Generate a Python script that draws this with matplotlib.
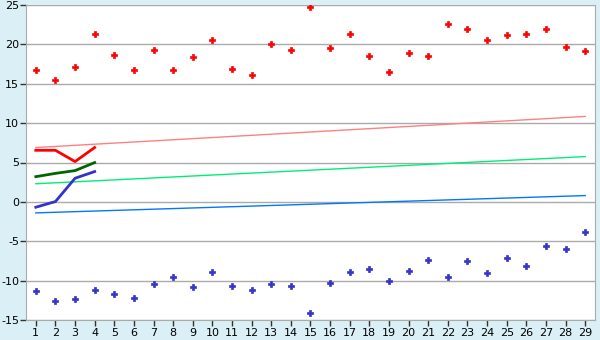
import matplotlib
matplotlib.use("Agg")
import matplotlib.pyplot as plt

plt.rcParams["axes.unicode_minus"] = False

days = list(range(1, 30))
tmax = [16.8, 15.5, 17.1, 21.3, 18.7, 16.8, 19.3, 16.8, 18.4, 20.6,
        16.9, 16.1, 20.1, 19.3, 24.8, 19.6, 21.3, 18.5, 16.5, 18.9,
        18.5, 22.6, 22.0, 20.6, 21.2, 21.3, 22.0, 19.7, 19.2]
tmin = [-11.3, -12.6, -12.3, -11.2, -11.7, -12.2, -10.4, -9.6, -10.8, -8.9,
        -10.7, -11.2, -10.4, -10.7, -14.1, -10.3, -8.9, -8.5, -10.0, -8.8,
        -7.4, -9.5, -7.5, -9.0, -7.1, -8.1, -5.6, -6.0, -3.8]
trend_max = [6.9, 10.85]
trend_mean = [2.3, 5.75]
trend_min = [-1.4, 0.8]
obs_days = [1, 2, 3, 4]
obs_max = [6.55, 6.55, 5.12, 6.9]
obs_mean = [3.2, 3.62, 3.97, 4.99]
obs_min = [-0.68, 0.04, 3.0, 3.85]
yticks = [-15, -10, -5, 0, 5, 10, 15, 20, 25]

fig = plt.figure(figsize=(6, 3.4), dpi=100)
fig.patch.set_facecolor("#daf0f6")
ax = fig.add_axes([26/600, 1-320/340, 569/600, 315/340])
ax.set_facecolor("white")

ax.plot([days[0], days[-1]], trend_max, color="#ff8080", lw=1.0, zorder=2)
ax.plot([days[0], days[-1]], trend_mean, color="#00ee77", lw=1.0, zorder=2)
ax.plot([days[0], days[-1]], trend_min, color="#0077ff", lw=1.0, zorder=2)

ax.plot(obs_days, obs_max, color="#ff0000", lw=2.0, zorder=3)
ax.plot(obs_days, obs_mean, color="#006600", lw=2.0, zorder=3)
ax.plot(obs_days, obs_min, color="#3333cc", lw=2.0, zorder=3)

ax.plot(days, tmax, ls="none", marker="P", ms=4.5, color="#ff0000", mec="#ff0000", mew=0.5, zorder=4)
ax.plot(days, tmin, ls="none", marker="P", ms=4.5, color="#3333cc", mec="#3333cc", mew=0.5, zorder=4)

ax.set_xlim(0.5, 29.5)
ax.set_ylim(-15, 25)
ax.set_xticks(days)
ax.set_xticklabels([str(d) for d in days])
ax.set_yticks(yticks)
ax.yaxis.grid(True, color="#aaaaaa", lw=1.0)
ax.set_axisbelow(True)
for s in ["left", "bottom", "right", "top"]:
    ax.spines[s].set_color("#aaaaaa")
ax.spines["top"].set_visible(False)
ax.tick_params(axis="both", colors="#333333", labelsize=8, length=4, width=1,
               labelcolor="black")
ax.tick_params(axis="y", pad=1)
ax.tick_params(axis="x", pad=2)

fig.savefig("out.png", dpi=100, facecolor=fig.get_facecolor())
